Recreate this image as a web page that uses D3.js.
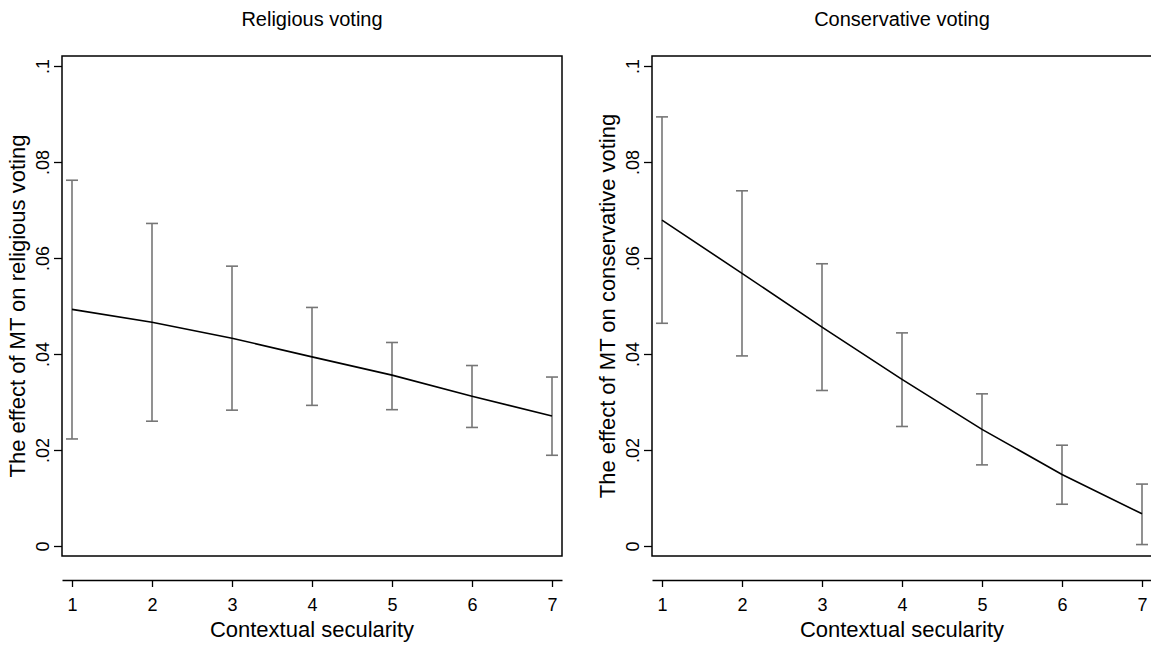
<!DOCTYPE html>
<html lang="en">
<head>
<meta charset="UTF-8">
<script src="https://d3js.org/d3.v7.min.js"></script>
<title>MT effect by contextual secularity</title>
<style>
    body { margin: 0; background: #fff; }
    svg { display: block; font-family: "Liberation Sans", Arial, sans-serif; }
</style>
</head>
<body>
<script>

    // x categories and y tick values (shared by both panels)
    var secularity = [1, 2, 3, 4, 5, 6, 7];
    var yTicks = [0, 0.02, 0.04, 0.06, 0.08, 0.1];
    var yTickLabels = ["0", ".02", ".04", ".06", ".08", ".1"];

    // religious voting: estimate, lower and upper bound
    var relEst = [0.0493, 0.0466, 0.0433, 0.0394, 0.0356, 0.0312, 0.0271];
    var relLo  = [0.0223, 0.0260, 0.0283, 0.0293, 0.0284, 0.0247, 0.0189];
    var relHi  = [0.0762, 0.0672, 0.0583, 0.0497, 0.0424, 0.0376, 0.0352];

    // conservative voting
    var conEst = [0.0679, 0.0568, 0.0456, 0.0347, 0.0243, 0.0149, 0.0067];
    var conLo  = [0.0464, 0.0396, 0.0324, 0.0249, 0.0169, 0.0087, 0.0003];
    var conHi  = [0.0894, 0.0740, 0.0588, 0.0444, 0.0317, 0.0210, 0.0129];

    var width = 1151, height = 648;
    var fontFam = '"Liberation Sans", Arial, sans-serif';

    var svg = d3.select("body")
        .append("svg")
        .attr("width", width)
        .attr("height", height);

    var panels = [
        {title: "Religious voting", ytitle: "The effect of MT on religious voting",
         est: relEst, lo: relLo, hi: relHi, left: 62},
        {title: "Conservative voting", ytitle: "The effect of MT on conservative voting",
         est: conEst, lo: conLo, hi: conHi, left: 652}
    ];

    var boxTop = 56, boxBottom = 556, boxW = 500;
    var axisY = 580;

    panels.forEach(function(p) {
        var g = svg.append("g");

        var x = d3.scaleLinear()
            .domain([0.875, 7.125])
            .range([p.left, p.left + boxW]);

        var y = d3.scaleLinear()
            .domain([0, 0.1])
            .range([546, 66]);

        // plot region outline
        g.append("rect")
            .attr("x", p.left)
            .attr("y", boxTop)
            .attr("width", boxW)
            .attr("height", boxBottom - boxTop)
            .attr("fill", "none")
            .attr("stroke", "#000")
            .attr("stroke-width", 1.5);

        // y axis on the left edge of the box
        var yAxis = d3.axisLeft(y)
            .tickValues(yTicks)
            .tickFormat(function(d, i) { return yTickLabels[i]; })
            .tickSize(8)
            .tickSizeOuter(0);

        var ya = g.append("g")
            .attr("transform", "translate(" + p.left + ",0)")
            .call(yAxis)
            .attr("font-family", fontFam)
            .attr("font-size", 18);
        ya.select(".domain").remove();
        ya.selectAll(".tick line").attr("stroke", "#000").attr("stroke-width", 1.3);
        ya.selectAll(".tick text")
            .attr("transform", "rotate(-90)")
            .attr("x", 0)
            .attr("y", -13)
            .attr("dy", 0)
            .attr("text-anchor", "middle")
            .attr("fill", "#000");

        // x axis, detached below the box
        var xAxis = d3.axisBottom(x)
            .tickValues(secularity)
            .tickFormat(d3.format("d"))
            .tickSize(7)
            .tickSizeOuter(0);

        var xa = g.append("g")
            .attr("transform", "translate(0," + axisY + ")")
            .call(xAxis)
            .attr("font-family", fontFam)
            .attr("font-size", 18);
        xa.select(".domain").attr("stroke", "#000").attr("stroke-width", 1.5);
        xa.selectAll(".tick line").attr("stroke", "#000").attr("stroke-width", 1.3);
        xa.selectAll(".tick text")
            .attr("y", 31)
            .attr("dy", 0)
            .attr("fill", "#000");

        // error bars
        var bars = g.append("g").selectAll(".ci")
            .data(secularity)
            .enter().append("g")
            .attr("class", "ci")
            .attr("stroke", "#767676")
            .attr("stroke-width", 1.6);

        bars.append("line")
            .attr("x1", function(d) { return x(d); })
            .attr("x2", function(d) { return x(d); })
            .attr("y1", function(d, i) { return y(p.lo[i]); })
            .attr("y2", function(d, i) { return y(p.hi[i]); });
        bars.append("line")
            .attr("x1", function(d) { return x(d) - 6; })
            .attr("x2", function(d) { return x(d) + 6; })
            .attr("y1", function(d, i) { return y(p.hi[i]); })
            .attr("y2", function(d, i) { return y(p.hi[i]); });
        bars.append("line")
            .attr("x1", function(d) { return x(d) - 6; })
            .attr("x2", function(d) { return x(d) + 6; })
            .attr("y1", function(d, i) { return y(p.lo[i]); })
            .attr("y2", function(d, i) { return y(p.lo[i]); });

        // estimate line
        var line = d3.line()
            .x(function(d) { return x(d); })
            .y(function(d, i) { return y(p.est[i]); });

        g.append("path")
            .datum(secularity)
            .attr("d", line)
            .attr("fill", "none")
            .attr("stroke", "#000")
            .attr("stroke-width", 1.6);

        // titles
        g.append("text")
            .attr("x", p.left + boxW / 2)
            .attr("y", 26)
            .attr("text-anchor", "middle")
            .style("font-size", "20px")
            .text(p.title);

        g.append("text")
            .attr("x", p.left + boxW / 2)
            .attr("y", 637)
            .attr("text-anchor", "middle")
            .style("font-size", "22px")
            .text("Contextual secularity");

        g.append("text")
            .attr("transform", "translate(" + (p.left - 37) + "," + ((boxTop + boxBottom) / 2) + ") rotate(-90)")
            .attr("text-anchor", "middle")
            .style("font-size", "22px")
            .text(p.ytitle);
    });

</script>
</body>
</html>
